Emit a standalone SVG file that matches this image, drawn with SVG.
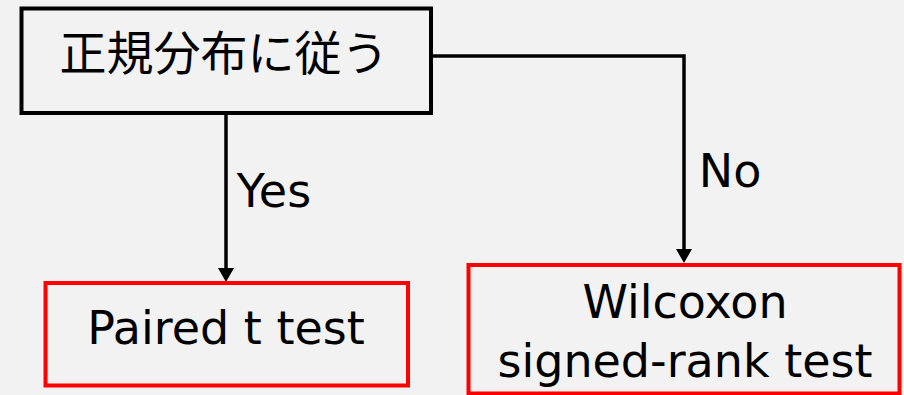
<svg xmlns="http://www.w3.org/2000/svg" width="904" height="395" viewBox="0 0 904 395">
<style>
.t{font-family:"DejaVu Sans","Noto Sans CJK JP",sans-serif;font-size:46px;fill:#000;text-anchor:middle}
.j{font-family:"Noto Sans CJK JP",sans-serif;font-size:47px;fill:#000;text-anchor:middle}
.blk{fill:none;stroke:#000;stroke-width:4}
.red{fill:none;stroke:#ff0000;stroke-width:4}
.c{fill:none;stroke:#000;stroke-width:3.5}
.ah{fill:#000}
</style>
<rect width="904" height="395" fill="#f2f2f2"/>
<g id="connectors">
<path class="c" d="M226,113 V268"/>
<path class="c" d="M431,56 H684 V249"/>
<path class="ah" d="M218,268 L234,268 L226,282 Z"/>
<path class="ah" d="M676,249 L692,249 L684,263 Z"/>
<text class="t" x="274" y="207">Yes</text>
<text class="t" x="730" y="187">No</text>
</g>
<g id="node-normal">
<rect class="blk" x="21.5" y="8.5" width="409.5" height="104.5"/>
<text class="j" x="224" y="70">正規分布に従う</text>
</g>
<g id="node-paired">
<rect class="red" x="45.5" y="283" width="362.5" height="102.5"/>
<text class="t" x="226" y="344">Paired t test</text>
</g>
<g id="node-wilcoxon">
<rect class="red" x="468.5" y="265" width="431" height="128.5"/>
<text class="t" x="685" y="318">Wilcoxon</text>
<text class="t" x="685" y="377">signed-rank test</text>
</g>
</svg>
